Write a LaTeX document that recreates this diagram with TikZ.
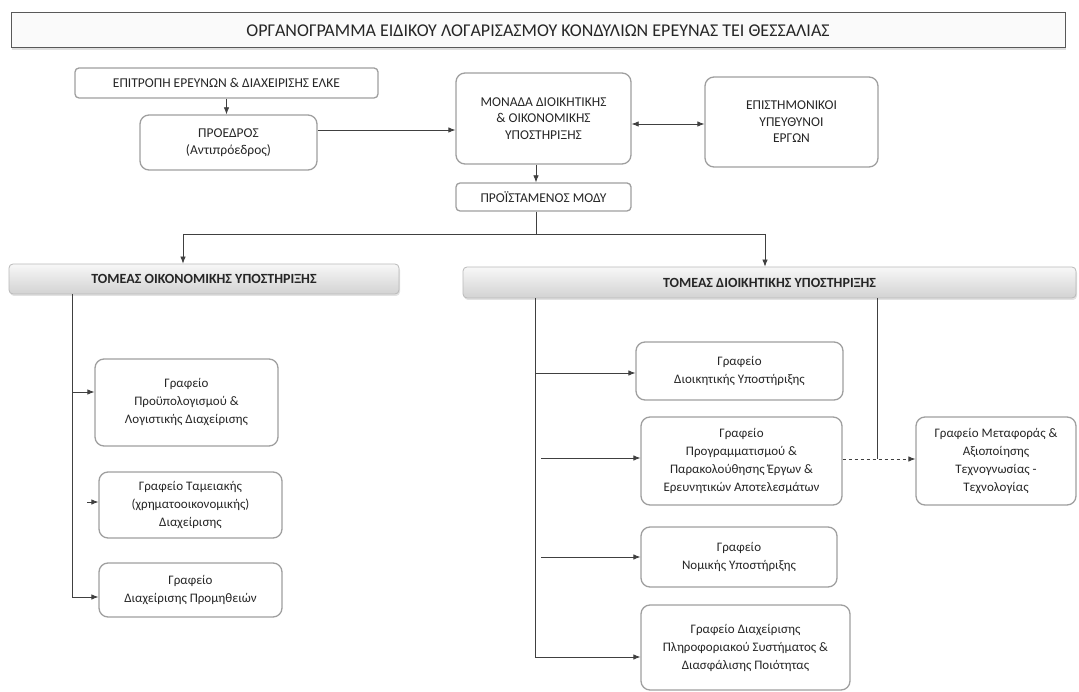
\documentclass[tikz,border=0pt]{standalone}
\usepackage{fontspec}
\setmainfont{Carlito}
\usetikzlibrary{arrows.meta,shadows}
\begin{document}
\begin{tikzpicture}[x=1pt,y=-1pt,
  every node/.style={inner sep=0pt,align=center,text=black!85},
  box/.style={draw=gray!75,line width=1.3pt,rounded corners=9pt,fill=white,font=\fontsize{13}{18}\selectfont},
  capbox/.style={box,font=\fontsize{13.5}{16.5}\selectfont},
  hdr/.style={draw=gray!55,line width=0.8pt,rounded corners=4pt,top color=gray!6,bottom color=gray!35,
     drop shadow={shadow xshift=1pt,shadow yshift=-2pt,fill=gray!45},font=\bfseries\fontsize{14}{16}\selectfont},
  titlebox/.style={draw=gray!70!black,line width=1pt,fill=gray!4,
     drop shadow={shadow xshift=1pt,shadow yshift=-2.5pt,fill=gray!50},font=\fontsize{18}{20}\selectfont},
  arr/.style={draw=black!75,line width=0.8pt,-{Latex[length=7pt,width=5.5pt]}},
  ln/.style={draw=black!75,line width=0.8pt},
]
\useasboundingbox (0,0) rectangle (1079,692);

\node[titlebox,minimum width=1054,minimum height=35] (title) at (538,30.5)
  {ΟΡΓΑΝΟΓΡΑΜΜΑ ΕΙΔΙΚΟΥ ΛΟΓΑΡΙΣΑΣΜΟΥ ΚΟΝΔΥΛΙΩΝ ΕΡΕΥΝΑΣ ΤΕΙ ΘΕΣΣΑΛΙΑΣ};

\node[capbox,rounded corners=4pt,minimum width=303,minimum height=30] (epitr) at (226.5,83)
  {ΕΠΙΤΡΟΠΗ ΕΡΕΥΝΩΝ \& ΔΙΑΧΕΙΡΙΣΗΣ ΕΛΚΕ};
\node[capbox,minimum width=177,minimum height=55] (proedr) at (228.5,142.5)
  {ΠΡΟΕΔΡΟΣ\\(Αντιπρόεδρος)};
\node[capbox,minimum width=175,minimum height=91] (monada) at (543.5,118.5)
  {ΜΟΝΑΔΑ ΔΙΟΙΚΗΤΙΚΗΣ\\\& ΟΙΚΟΝΟΜΙΚΗΣ\\ΥΠΟΣΤΗΡΙΞΗΣ};
\node[capbox,minimum width=173,minimum height=90] (episth) at (791.5,122)
  {ΕΠΙΣΤΗΜΟΝΙΚΟΙ\\ΥΠΕΥΘΥΝΟΙ\\ΕΡΓΩΝ};
\node[capbox,rounded corners=4pt,minimum width=175,minimum height=28] (proist) at (543.5,197)
  {ΠΡΟΪΣΤΑΜΕΝΟΣ ΜΟΔΥ};

\node[hdr,minimum width=390,minimum height=30] (hleft) at (204,279)
  {ΤΟΜΕΑΣ ΟΙΚΟΝΟΜΙΚΗΣ ΥΠΟΣΤΗΡΙΞΗΣ};
\node[hdr,minimum width=613,minimum height=31] (hright) at (769.5,282.5)
  {ΤΟΜΕΑΣ ΔΙΟΙΚΗΤΙΚΗΣ ΥΠΟΣΤΗΡΙΞΗΣ};

\node[box,minimum width=183,minimum height=87] (b1) at (186.5,402.5)
  {Γραφείο\\Προϋπολογισμού \&\\Λογιστικής Διαχείρισης};
\node[box,minimum width=183,minimum height=66] (b2) at (190.5,505)
  {Γραφείο Ταμειακής\\(χρηματοοικονομικής)\\Διαχείρισης};
\node[box,minimum width=183,minimum height=54] (b3) at (190.5,590)
  {Γραφείο\\Διαχείρισης Προμηθειών};

\node[box,minimum width=207,minimum height=58] (r1) at (739.5,371)
  {Γραφείο\\Διοικητικής Υποστήριξης};
\node[box,minimum width=201,minimum height=88] (r2) at (741.5,461)
  {Γραφείο\\Προγραμματισμού \&\\Παρακολούθησης Έργων \&\\Ερευνητικών Αποτελεσμάτων};
\node[box,minimum width=196,minimum height=60] (r3) at (739,557)
  {Γραφείο\\Νομικής Υποστήριξης};
\node[box,minimum width=209,minimum height=85] (r4) at (745.5,647.5)
  {Γραφείο Διαχείρισης\\Πληροφοριακού Συστήματος \&\\Διασφάλισης Ποιότητας};
\node[box,minimum width=160,minimum height=88] (mt) at (996,461)
  {Γραφείο Μεταφοράς \&\\Αξιοποίησης\\Τεχνογνωσίας -\\Τεχνολογίας};

% coordinates
\coordinate (ca) at (536,0);
\coordinate (split) at (536,234);
\coordinate (sl) at (183,234);
\coordinate (sr) at (765,234);
\coordinate (lt) at (72,0);
\coordinate (rt) at (535,0);
\coordinate (mx) at (877,0);
\coordinate (b2s) at (87,502);
\coordinate (r2s) at (541,458);
\coordinate (r3s) at (541,557);

% top connectors
\draw[arr] (epitr.south) -- (epitr.south |- proedr.north);
\draw[arr] (proedr.east |- 0,130) -- (monada.west |- 0,130);
\draw[ln,{Latex[length=7pt,width=5.5pt]}-{Latex[length=7pt,width=5.5pt]}] (monada.east |- 0,124) -- (episth.west |- 0,124);
\draw[arr] (ca |- monada.south) -- (ca |- proist.north);
\draw[ln] (ca |- proist.south) -- (split);
\draw[ln] (sl) -- (sr);
\draw[arr] (sl) -- (sl |- hleft.north);
\draw[arr] (sr) -- (sr |- hright.north);

% left branch
\draw[ln] (lt |- hleft.south) -- (lt |- 0,597);
\draw[arr] (lt |- 0,392) -- (b1.west |- 0,392);
\draw[arr] (b2s) -- (b2.west |- b2s);
\draw[arr] (lt |- 0,597) -- (b3.west |- 0,597);

% right branch
\draw[ln] (rt |- hright.south) -- (rt |- 0,657);
\draw[arr] (rt |- 0,373) -- (r1.west |- 0,373);
\draw[arr] (r2s) -- (r2.west |- r2s);
\draw[arr] (r3s) -- (r3.west |- r3s);
\draw[arr] (rt |- 0,657) -- (r4.west |- 0,657);
\draw[arr,dashed] (r2.east |- 0,459) -- (mt.west |- 0,459);
\draw[ln] (mx |- hright.south) -- (mx |- 0,459);
\end{tikzpicture}
\end{document}
